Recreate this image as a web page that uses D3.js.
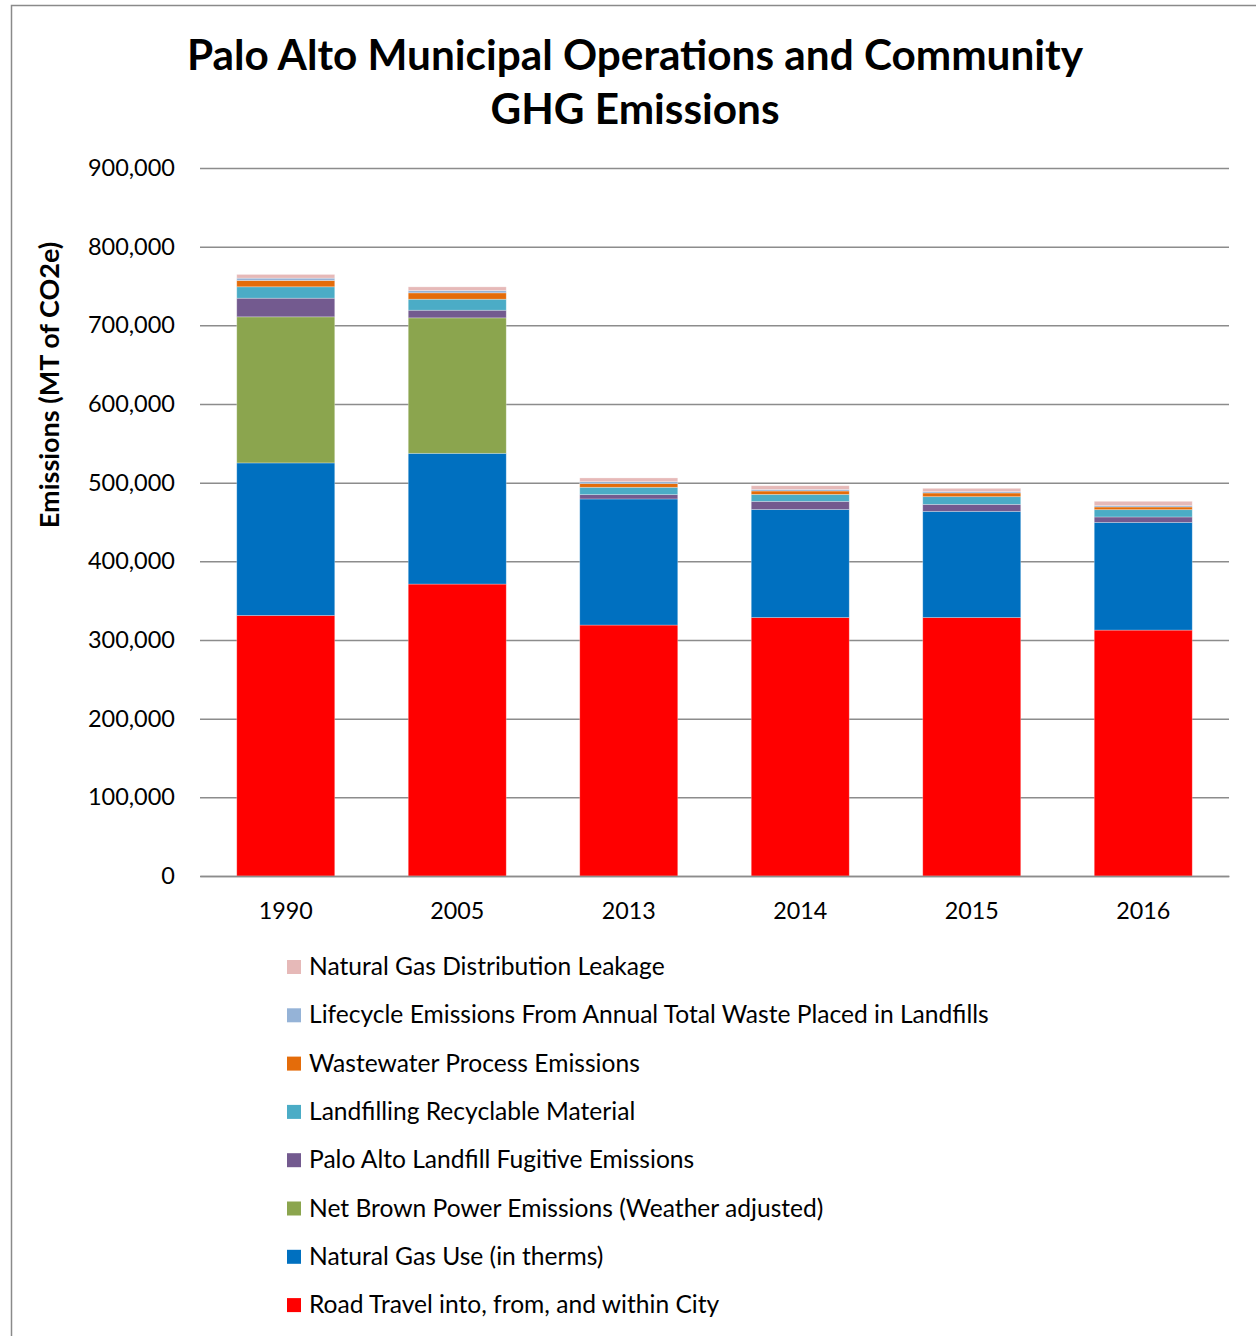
<!DOCTYPE html>
<html>
<head>
<meta charset="utf-8">
<script src="https://cdn.jsdelivr.net/npm/d3@7"></script>
<style>
  body { margin: 0; background: #fff; }
  text { font-family: Lato, "Open Sans", sans-serif; fill: #000; }
</style>
</head>
<body>
<div id="chart"></div>
<script>
// data (MT CO2e)
var years = ["1990", "2005", "2013", "2014", "2015", "2016"];
var roadTravel   = [331200, 371100, 319000, 328600, 328600, 312600];
var naturalGas   = [193900, 166200, 160300, 137400, 134900, 136900];
var brownPower   = [185700, 172200, 0, 0, 0, 0];
var landfillFug  = [23700, 9700, 5500, 10200, 8900, 6900];
var recyclable   = [14500, 14000, 9300, 8900, 9800, 9300];
var wastewater   = [8000, 8100, 4700, 4300, 4700, 3400];
var lifecycle    = [3000, 2900, 2500, 2000, 1700, 1700];
var gasLeakage   = [4700, 4700, 4700, 4700, 4200, 5500];
var yTicks = [0, 100000, 200000, 300000, 400000, 500000, 600000, 700000, 800000, 900000];

var seriesNames = [
  "Road Travel into, from, and within City",
  "Natural Gas Use (in therms)",
  "Net Brown Power Emissions (Weather adjusted)",
  "Palo Alto Landfill Fugitive Emissions",
  "Landfilling Recyclable Material",
  "Wastewater Process Emissions",
  "Lifecycle Emissions From Annual Total Waste Placed in Landfills",
  "Natural Gas Distribution Leakage"
];
var seriesValues = [roadTravel, naturalGas, brownPower, landfillFug, recyclable, wastewater, lifecycle, gasLeakage];
var colors = ["#ff0000", "#0070c0", "#8ba54e", "#735a8f", "#4bacc6", "#e46c0a", "#95b3d7", "#e6b9b8"];

var W = 1256, H = 1336;
var margin = {top: 168, left: 200, right: 27, bottom: 460};
var width = W - margin.left - margin.right,
    height = 876 - margin.top;

var svg = d3.select("#chart").append("svg")
  .attr("width", W)
  .attr("height", H);

// frame around chart area
svg.append("path")
  .attr("d", "M11.5," + H + " V5.5 H" + W)
  .attr("fill", "none")
  .attr("stroke", "#8a8a8a")
  .attr("stroke-width", 1.5);

// title
svg.append("text")
  .attr("x", 635).attr("y", 70)
  .attr("text-anchor", "middle")
  .style("font-size", "42.3px").style("font-weight", "bold")
  .text("Palo Alto Municipal Operations and Community");
svg.append("text")
  .attr("x", 635).attr("y", 124)
  .attr("text-anchor", "middle")
  .style("font-size", "42.3px").style("font-weight", "bold")
  .text("GHG Emissions");

var g = svg.append("g")
  .attr("transform", "translate(" + margin.left + "," + margin.top + ")");

var x = d3.scaleBand()
  .domain(years)
  .range([0, width])
  .paddingInner(0.4286)
  .paddingOuter(0.2143);

var y = d3.scaleLinear()
  .domain([0, 900000])
  .range([height, 0]);

// gridlines
g.append("g")
  .call(d3.axisLeft(y).tickValues(yTicks).tickSize(-width).tickFormat(""))
  .call(function(s) {
    s.select(".domain").remove();
    s.selectAll("line").attr("stroke", "#8c8c8c").attr("stroke-width", 1.5);
  });

// y tick labels
g.append("g")
  .call(d3.axisLeft(y).tickValues(yTicks).tickSize(0).tickPadding(25).tickFormat(d3.format(",")))
  .call(function(s) {
    s.select(".domain").remove();
    s.selectAll("text").style("font-size", "23.5px").style("font-family", "Lato, sans-serif").attr("fill", "#000");
  });

// stacking
var rows = years.map(function(yr, i) {
  var r = {year: yr};
  seriesNames.forEach(function(n, j) { r[n] = seriesValues[j][i]; });
  return r;
});
var stack = d3.stack().keys(seriesNames)(rows);

g.selectAll(".series")
  .data(stack)
  .enter().append("g")
  .attr("fill", function(d, i) { return colors[i]; })
  .selectAll("rect")
  .data(function(d) { return d; })
  .enter().append("rect")
  .attr("x", function(d) { return x(d.data.year); })
  .attr("y", function(d) { return y(d[1]); })
  .attr("width", x.bandwidth())
  .attr("height", function(d) { return y(d[0]) - y(d[1]); })
  .attr("stroke", "#ffffff")
  .attr("stroke-opacity", 0.35)
  .attr("stroke-width", 0.8);

// x axis
g.append("g")
  .attr("transform", "translate(0," + height + ")")
  .call(d3.axisBottom(x).tickSize(0).tickPadding(26))
  .call(function(s) {
    s.select(".domain").attr("stroke", "#8c8c8c").attr("stroke-width", 1.5);
    s.selectAll("text").style("font-size", "23.3px").style("font-family", "Lato, sans-serif").attr("fill", "#000");
  });

// y axis title
svg.append("text")
  .attr("transform", "translate(59,385) rotate(-90)")
  .attr("text-anchor", "middle")
  .style("font-size", "27px").style("font-weight", "bold")
  .text("Emissions (MT of CO2e)");

// legend (top to bottom reversed order)
var legend = svg.append("g").attr("transform", "translate(287,967)");
var order = d3.range(seriesNames.length).reverse();
order.forEach(function(idx, k) {
  var row = legend.append("g").attr("transform", "translate(0," + (k * 48.3) + ")");
  row.append("rect")
    .attr("x", 0).attr("y", -7)
    .attr("width", 14).attr("height", 14)
    .attr("fill", colors[idx]);
  row.append("text")
    .attr("x", 22).attr("y", 8)
    .style("font-size", "24.6px")
    .text(seriesNames[idx]);
});
</script>
</body>
</html>
